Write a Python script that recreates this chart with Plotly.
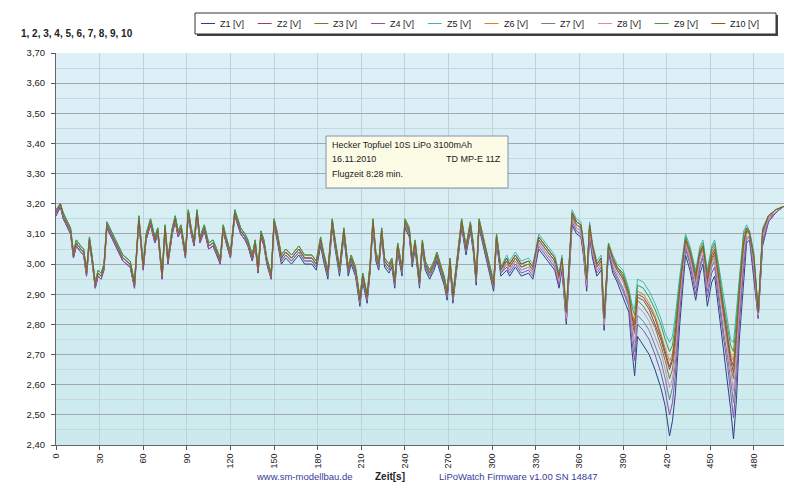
import plotly.graph_objects as go

# ---------------- data ----------------
T = [0,3,5,7,10,12,14,17,19,21,
     23,25,27,29,31,33,35,37,42,46,
     51,54,57,60,62,65,68,70,73,75,
     77,80,82,84,86,89,91,93,95,97,
     99,102,105,108,113,115,117,120,123,127,
     130,132,135,137,139,141,143,145,148,150,
     152,155,158,162,167,171,176,179,182,184,
     187,190,192,195,198,201,203,206,209,211,
     214,216,218,220,222,224,226,229,231,233,
     235,238,240,243,245,247,250,252,254,257,
     260,262,265,267,269,271,273,276,279,282,
     285,287,289,291,294,297,299,301,303,306,
     310,312,316,320,325,328,332,335,340,343,
     346,348,351,353,355,358,361,363,365,367,
     369,372,375,377,
     380,383,386,390,394,396,398,400,404,408,
     412,416,419,422,424,426,429,433,436,438,
     440,443,445,448,451,453,456,459,462,464,
     466,468,470,473,475,477,480,483,486,490,
     495,500,505]

Z1 = [3.16,3.19,3.15,3.13,3.10,3.02,3.06,3.04,3.03,2.96,
      3.07,3.00,2.92,2.96,2.95,2.98,3.12,3.10,3.05,3.01,
      2.99,2.92,3.14,2.98,3.08,3.13,3.07,3.10,2.95,3.11,
      3.00,3.10,3.14,3.09,3.11,3.02,3.16,3.10,3.06,3.16,
      3.07,3.11,3.05,3.06,3.00,3.11,3.07,3.02,3.16,3.10,
      3.08,3.06,3.01,3.06,2.97,3.09,3.06,3.00,2.95,3.13,
      3.08,3.00,3.02,3.00,3.03,3.00,3.00,2.98,3.06,3.01,
      2.95,3.12,3.05,2.96,3.09,2.96,3.00,2.96,2.86,2.94,
      2.87,2.97,3.12,3.01,2.98,3.09,2.99,2.97,2.99,2.92,
      3.04,2.96,3.12,3.09,2.99,3.05,2.92,3.05,2.98,2.95,
      2.98,3.01,2.96,2.93,2.88,2.99,2.87,2.99,3.12,3.03,
      3.11,3.04,2.93,3.12,3.06,2.99,2.95,2.91,3.07,2.96,
      2.98,2.96,2.99,2.96,2.97,2.95,3.05,3.03,3.00,2.98,
      2.92,2.98,2.80,2.96,3.13,3.10,3.09,3.02,2.91,3.09,
      3.02,2.96,2.98,2.78,
      3.04,2.97,2.94,2.89,2.84,2.72,2.63,2.76,2.73,2.70,
      2.65,2.59,2.53,2.43,2.48,2.57,2.80,3.03,2.98,2.93,
      2.88,2.97,3.00,2.86,2.94,2.96,2.84,2.72,2.62,2.52,
      2.42,2.55,2.75,2.96,3.07,3.08,2.95,2.82,3.06,3.14,
      3.17,3.19,3.20]

Z2 = [3.17,3.20,3.16,3.14,3.11,3.03,3.07,3.05,3.04,2.97,
      3.08,3.01,2.93,2.97,2.96,2.99,3.13,3.11,3.06,3.02,
      3.00,2.93,3.15,2.99,3.09,3.14,3.08,3.11,2.96,3.12,
      3.01,3.11,3.15,3.10,3.12,3.03,3.17,3.11,3.07,3.17,
      3.08,3.12,3.06,3.07,3.01,3.12,3.08,3.03,3.17,3.11,
      3.09,3.07,3.02,3.07,2.98,3.10,3.07,3.01,2.96,3.14,
      3.10,3.02,3.04,3.02,3.05,3.02,3.02,3.00,3.08,3.03,
      2.97,3.14,3.07,2.98,3.11,2.98,3.02,2.98,2.88,2.96,
      2.89,2.99,3.14,3.03,3.00,3.11,3.01,2.99,3.01,2.94,
      3.06,2.98,3.14,3.11,3.01,3.07,2.94,3.07,3.00,2.97,
      3.00,3.03,2.98,2.95,2.90,3.01,2.89,3.01,3.14,3.05,
      3.13,3.06,2.95,3.14,3.08,3.01,2.97,2.93,3.09,2.98,
      3.01,2.99,3.02,2.99,3.00,2.98,3.08,3.06,3.03,3.01,
      2.95,3.01,2.83,2.99,3.16,3.13,3.12,3.05,2.94,3.12,
      3.05,2.99,3.01,2.81,
      3.06,3.01,2.98,2.95,2.90,2.83,2.78,2.89,2.88,2.85,
      2.80,2.75,2.70,2.65,2.68,2.75,2.91,3.08,3.04,2.99,
      2.95,3.03,3.06,2.94,3.02,3.04,2.95,2.84,2.75,2.68,
      2.64,2.75,2.90,3.07,3.11,3.10,3.01,2.83,3.10,3.15,
      3.18,3.19,3.20]

Z3 = [3.18,3.20,3.17,3.15,3.12,3.04,3.08,3.06,3.05,2.98,
      3.09,3.02,2.94,2.98,2.97,3.00,3.14,3.12,3.07,3.03,
      3.01,2.94,3.16,3.00,3.10,3.15,3.09,3.12,2.97,3.13,
      3.02,3.12,3.16,3.11,3.13,3.04,3.18,3.12,3.08,3.18,
      3.09,3.13,3.07,3.08,3.02,3.13,3.09,3.04,3.18,3.12,
      3.10,3.08,3.03,3.08,2.99,3.11,3.08,3.02,2.97,3.15,
      3.10,3.02,3.04,3.02,3.05,3.02,3.02,3.00,3.08,3.03,
      2.97,3.14,3.07,2.98,3.11,2.98,3.02,2.98,2.88,2.96,
      2.89,2.99,3.14,3.03,3.00,3.11,3.01,2.99,3.01,2.94,
      3.06,2.98,3.14,3.11,3.01,3.07,2.94,3.07,3.00,2.97,
      3.00,3.03,2.98,2.95,2.90,3.01,2.89,3.01,3.14,3.05,
      3.13,3.06,2.95,3.14,3.08,3.01,2.97,2.93,3.09,2.98,
      3.01,2.99,3.02,2.99,3.00,2.98,3.08,3.06,3.03,3.01,
      2.95,3.01,2.83,2.99,3.16,3.13,3.12,3.05,2.94,3.12,
      3.05,2.99,3.01,2.81,
      3.06,3.01,2.98,2.95,2.89,2.81,2.77,2.88,2.86,2.83,
      2.79,2.73,2.68,2.62,2.65,2.73,2.90,3.07,3.03,2.99,
      2.94,3.03,3.05,2.93,3.01,3.03,2.93,2.83,2.73,2.66,
      2.62,2.73,2.88,3.05,3.11,3.10,3.01,2.83,3.10,3.15,
      3.18,3.19,3.20]

Z4 = [3.16,3.19,3.15,3.13,3.10,3.02,3.06,3.04,3.03,2.96,
      3.07,3.00,2.92,2.96,2.95,2.98,3.12,3.10,3.05,3.01,
      2.99,2.92,3.14,2.98,3.08,3.13,3.07,3.10,2.95,3.11,
      3.00,3.10,3.14,3.09,3.11,3.02,3.16,3.10,3.06,3.16,
      3.07,3.11,3.05,3.06,3.00,3.11,3.07,3.02,3.16,3.10,
      3.08,3.06,3.01,3.06,2.97,3.09,3.06,3.00,2.95,3.13,
      3.09,3.01,3.03,3.01,3.04,3.01,3.01,2.99,3.07,3.02,
      2.96,3.13,3.06,2.97,3.10,2.97,3.01,2.97,2.87,2.95,
      2.88,2.98,3.13,3.02,2.99,3.10,3.00,2.98,3.00,2.93,
      3.05,2.97,3.13,3.10,3.00,3.06,2.93,3.06,2.99,2.96,
      2.99,3.02,2.97,2.94,2.89,3.00,2.88,3.00,3.13,3.04,
      3.12,3.05,2.94,3.13,3.07,3.00,2.96,2.92,3.08,2.97,
      2.99,2.97,3.00,2.97,2.98,2.96,3.06,3.04,3.01,2.99,
      2.93,2.99,2.81,2.97,3.14,3.11,3.10,3.03,2.92,3.10,
      3.03,2.97,2.99,2.79,
      3.05,2.98,2.95,2.91,2.86,2.75,2.68,2.80,2.78,2.75,
      2.70,2.64,2.58,2.50,2.54,2.63,2.84,3.05,3.00,2.95,
      2.90,2.99,3.02,2.89,2.97,2.99,2.87,2.76,2.66,2.57,
      2.49,2.61,2.80,2.99,3.08,3.09,2.97,2.82,3.07,3.14,
      3.17,3.19,3.20]

Z5 = [3.18,3.20,3.17,3.15,3.12,3.04,3.08,3.06,3.05,2.98,
      3.09,3.02,2.94,2.98,2.97,3.00,3.14,3.12,3.07,3.03,
      3.01,2.94,3.16,3.00,3.10,3.15,3.09,3.12,2.97,3.13,
      3.02,3.12,3.16,3.11,3.13,3.04,3.18,3.12,3.08,3.18,
      3.09,3.13,3.07,3.08,3.02,3.13,3.09,3.04,3.18,3.12,
      3.10,3.08,3.03,3.08,2.99,3.11,3.08,3.02,2.97,3.15,
      3.11,3.03,3.05,3.03,3.06,3.03,3.03,3.01,3.09,3.04,
      2.98,3.15,3.08,2.99,3.12,2.99,3.03,2.99,2.89,2.97,
      2.90,3.00,3.15,3.04,3.01,3.12,3.02,3.00,3.02,2.95,
      3.07,2.99,3.15,3.12,3.02,3.08,2.95,3.08,3.01,2.98,
      3.01,3.04,2.99,2.96,2.91,3.02,2.90,3.02,3.15,3.06,
      3.14,3.07,2.96,3.15,3.09,3.02,2.98,2.94,3.10,2.99,
      3.03,3.01,3.04,3.01,3.02,3.00,3.10,3.08,3.05,3.03,
      2.97,3.03,2.85,3.01,3.18,3.15,3.14,3.07,2.96,3.14,
      3.07,3.01,3.03,2.83,
      3.07,3.03,3.00,2.98,2.92,2.87,2.85,2.95,2.94,2.91,
      2.87,2.82,2.77,2.74,2.76,2.83,2.96,3.10,3.06,3.02,
      2.98,3.06,3.08,2.98,3.06,3.08,2.99,2.89,2.80,2.75,
      2.74,2.84,2.96,3.11,3.13,3.11,3.04,2.84,3.12,3.16,
      3.18,3.19,3.20]

Z6 = [3.17,3.20,3.16,3.14,3.11,3.03,3.07,3.05,3.04,2.97,
      3.08,3.01,2.93,2.97,2.96,2.99,3.13,3.11,3.06,3.02,
      3.00,2.93,3.15,2.99,3.09,3.14,3.08,3.11,2.96,3.12,
      3.01,3.11,3.15,3.10,3.12,3.03,3.17,3.11,3.07,3.17,
      3.08,3.12,3.06,3.07,3.01,3.12,3.08,3.03,3.17,3.11,
      3.09,3.07,3.02,3.07,2.98,3.10,3.07,3.01,2.96,3.14,
      3.11,3.03,3.05,3.03,3.06,3.03,3.03,3.01,3.09,3.04,
      2.98,3.15,3.08,2.99,3.12,2.99,3.03,2.99,2.89,2.97,
      2.90,3.00,3.15,3.04,3.01,3.12,3.02,3.00,3.02,2.95,
      3.07,2.99,3.15,3.12,3.02,3.08,2.95,3.08,3.01,2.98,
      3.01,3.04,2.99,2.96,2.91,3.02,2.90,3.02,3.15,3.06,
      3.14,3.07,2.96,3.15,3.09,3.02,2.98,2.94,3.10,2.99,
      3.02,3.00,3.03,3.00,3.01,2.99,3.09,3.07,3.04,3.02,
      2.96,3.02,2.84,3.00,3.17,3.14,3.13,3.06,2.95,3.13,
      3.06,3.00,3.02,2.82,
      3.06,3.02,2.99,2.96,2.90,2.84,2.81,2.91,2.90,2.87,
      2.83,2.77,2.72,2.68,2.70,2.78,2.93,3.09,3.04,3.00,
      2.96,3.04,3.06,2.96,3.04,3.06,2.96,2.86,2.76,2.70,
      2.68,2.78,2.92,3.08,3.12,3.10,3.02,2.84,3.11,3.16,
      3.18,3.19,3.20]

Z7 = [3.17,3.20,3.16,3.14,3.11,3.03,3.07,3.05,3.04,2.97,
      3.08,3.01,2.93,2.97,2.96,2.99,3.13,3.11,3.06,3.02,
      3.00,2.93,3.15,2.99,3.09,3.14,3.08,3.11,2.96,3.12,
      3.01,3.11,3.15,3.10,3.12,3.03,3.17,3.11,3.07,3.17,
      3.08,3.12,3.06,3.07,3.01,3.12,3.08,3.03,3.17,3.11,
      3.09,3.07,3.02,3.07,2.98,3.10,3.07,3.01,2.96,3.14,
      3.09,3.01,3.03,3.01,3.04,3.01,3.01,2.99,3.07,3.02,
      2.96,3.13,3.06,2.97,3.10,2.97,3.01,2.97,2.87,2.95,
      2.88,2.98,3.13,3.02,2.99,3.10,3.00,2.98,3.00,2.93,
      3.05,2.97,3.13,3.10,3.00,3.06,2.93,3.06,2.99,2.96,
      2.99,3.02,2.97,2.94,2.89,3.00,2.88,3.00,3.13,3.04,
      3.12,3.05,2.94,3.13,3.07,3.00,2.96,2.92,3.08,2.97,
      3.00,2.98,3.01,2.98,2.99,2.97,3.07,3.05,3.02,3.00,
      2.94,3.00,2.82,2.98,3.15,3.12,3.11,3.04,2.93,3.11,
      3.04,2.98,3.00,2.80,
      3.05,2.99,2.96,2.92,2.87,2.78,2.71,2.83,2.81,2.78,
      2.73,2.68,2.62,2.55,2.59,2.67,2.86,3.06,3.01,2.96,
      2.92,3.00,3.03,2.91,2.99,3.01,2.90,2.78,2.69,2.61,
      2.54,2.66,2.83,3.02,3.09,3.09,2.98,2.83,3.08,3.15,
      3.17,3.19,3.20]

Z8 = [3.17,3.20,3.16,3.14,3.11,3.03,3.07,3.05,3.04,2.97,
      3.08,3.01,2.93,2.97,2.96,2.99,3.13,3.11,3.06,3.02,
      3.00,2.93,3.15,2.99,3.09,3.14,3.08,3.11,2.96,3.12,
      3.01,3.11,3.15,3.10,3.12,3.03,3.17,3.11,3.07,3.17,
      3.08,3.12,3.06,3.07,3.01,3.12,3.08,3.03,3.17,3.11,
      3.09,3.07,3.02,3.07,2.98,3.10,3.07,3.01,2.96,3.14,
      3.10,3.02,3.04,3.02,3.05,3.02,3.02,3.00,3.08,3.03,
      2.97,3.14,3.07,2.98,3.11,2.98,3.02,2.98,2.88,2.96,
      2.89,2.99,3.14,3.03,3.00,3.11,3.01,2.99,3.01,2.94,
      3.06,2.98,3.14,3.11,3.01,3.07,2.94,3.07,3.00,2.97,
      3.00,3.03,2.98,2.95,2.90,3.01,2.89,3.01,3.14,3.05,
      3.13,3.06,2.95,3.14,3.08,3.01,2.97,2.93,3.09,2.98,
      3.00,2.98,3.01,2.98,2.99,2.97,3.07,3.05,3.02,3.00,
      2.94,3.00,2.82,2.98,3.15,3.12,3.11,3.04,2.93,3.11,
      3.04,2.98,3.00,2.80,
      3.06,3.00,2.97,2.94,2.88,2.80,2.74,2.86,2.84,2.81,
      2.76,2.71,2.65,2.59,2.62,2.70,2.88,3.07,3.02,2.98,
      2.93,3.02,3.04,2.92,3.00,3.02,2.92,2.81,2.71,2.64,
      2.58,2.70,2.86,3.04,3.10,3.10,3.00,2.83,3.09,3.15,
      3.18,3.19,3.20]

Z9 = [3.18,3.20,3.17,3.15,3.12,3.04,3.08,3.06,3.05,2.98,
      3.09,3.02,2.94,2.98,2.97,3.00,3.14,3.12,3.07,3.03,
      3.01,2.94,3.16,3.00,3.10,3.15,3.09,3.12,2.97,3.13,
      3.02,3.12,3.16,3.11,3.13,3.04,3.18,3.12,3.08,3.18,
      3.09,3.13,3.07,3.08,3.02,3.13,3.09,3.04,3.18,3.12,
      3.10,3.08,3.03,3.08,2.99,3.11,3.08,3.02,2.97,3.15,
      3.11,3.03,3.05,3.03,3.06,3.03,3.03,3.01,3.09,3.04,
      2.98,3.15,3.08,2.99,3.12,2.99,3.03,2.99,2.89,2.97,
      2.90,3.00,3.15,3.04,3.01,3.12,3.02,3.00,3.02,2.95,
      3.07,2.99,3.15,3.12,3.02,3.08,2.95,3.08,3.01,2.98,
      3.01,3.04,2.99,2.96,2.91,3.02,2.90,3.02,3.15,3.06,
      3.14,3.07,2.96,3.15,3.09,3.02,2.98,2.94,3.10,2.99,
      3.02,3.00,3.03,3.00,3.01,2.99,3.09,3.07,3.04,3.02,
      2.96,3.02,2.84,3.00,3.17,3.14,3.13,3.06,2.95,3.13,
      3.06,3.00,3.02,2.82,
      3.07,3.02,2.99,2.97,2.91,2.86,2.83,2.93,2.92,2.89,
      2.85,2.80,2.75,2.71,2.73,2.80,2.94,3.09,3.05,3.01,
      2.97,3.05,3.07,2.97,3.05,3.07,2.98,2.87,2.78,2.73,
      2.71,2.81,2.94,3.10,3.12,3.11,3.03,2.84,3.11,3.16,
      3.18,3.19,3.20]

Z10 = [3.17,3.20,3.16,3.14,3.11,3.03,3.07,3.05,3.04,2.97,
       3.08,3.01,2.93,2.97,2.96,2.99,3.13,3.11,3.06,3.02,
       3.00,2.93,3.15,2.99,3.09,3.14,3.08,3.11,2.96,3.12,
       3.01,3.11,3.15,3.10,3.12,3.03,3.17,3.11,3.07,3.17,
       3.08,3.12,3.06,3.07,3.01,3.12,3.08,3.03,3.17,3.11,
       3.09,3.07,3.02,3.07,2.98,3.10,3.07,3.01,2.96,3.14,
       3.10,3.02,3.04,3.02,3.05,3.02,3.02,3.00,3.08,3.03,
       2.97,3.14,3.07,2.98,3.11,2.98,3.02,2.98,2.88,2.96,
       2.89,2.99,3.14,3.03,3.00,3.11,3.01,2.99,3.01,2.94,
       3.06,2.98,3.14,3.11,3.01,3.07,2.94,3.07,3.00,2.97,
       3.00,3.03,2.98,2.95,2.90,3.01,2.89,3.01,3.14,3.05,
       3.13,3.06,2.95,3.14,3.08,3.01,2.97,2.93,3.09,2.98,
       3.02,3.00,3.03,3.00,3.01,2.99,3.09,3.07,3.04,3.02,
       2.96,3.02,2.84,3.00,3.17,3.14,3.13,3.06,2.95,3.13,
       3.06,3.00,3.02,2.82,
       3.06,3.02,2.99,2.96,2.90,2.83,2.80,2.90,2.89,2.86,
       2.82,2.76,2.71,2.66,2.69,2.77,2.92,3.08,3.04,3.00,
       2.96,3.04,3.06,2.95,3.03,3.05,2.95,2.85,2.76,2.69,
       2.66,2.77,2.91,3.07,3.12,3.10,3.02,2.84,3.11,3.16,
       3.18,3.19,3.20]

CELLS = [Z1, Z2, Z3, Z4, Z5, Z6, Z7, Z8, Z9, Z10]
NAMES = ["Z1 [V]", "Z2 [V]", "Z3 [V]", "Z4 [V]", "Z5 [V]",
         "Z6 [V]", "Z7 [V]", "Z8 [V]", "Z9 [V]", "Z10 [V]"]
COLORS = ["#2f3f86", "#a83a4a", "#7a7a2a", "#8a4fa8", "#3fb8b8",
          "#d9822b", "#6f7f95", "#d48ac0", "#3f9a4a", "#8b5a2b"]

Y_TICKS = [2.40, 2.50, 2.60, 2.70, 2.80, 2.90, 3.00, 3.10, 3.20, 3.30, 3.40, 3.50, 3.60, 3.70]
X_TICKS = list(range(0, 481, 30))

FONT = "Liberation Sans, Arial, sans-serif"

W, H = 792, 484
L, R, TOP, B = 48, 6, 45, 47
pw, ph = W - L - R, H - TOP - B


def px(x):
    return (x - L) / pw


def py(y):
    return (H - B - y) / ph


fig = go.Figure()
for vals, name, col in zip(CELLS, NAMES, COLORS):
    fig.add_trace(go.Scatter(x=T, y=vals, mode="lines", name=name,
                             showlegend=False,
                             line=dict(color=col, width=1)))

shapes = []
# background gradient bands (style only)
n = 26
top_c = (222, 240, 247)
bot_c = (204, 234, 237)
for i in range(n):
    f = i / (n - 1)
    c = tuple(round(bot_c[k] + (top_c[k] - bot_c[k]) * f) for k in range(3))
    shapes.append(dict(type="rect", xref="paper", yref="paper",
                       x0=0, x1=1, y0=i / n, y1=(i + 1) / n,
                       fillcolor="rgb(%d,%d,%d)" % c, line=dict(width=0),
                       layer="below"))

# info box
shapes.append(dict(type="rect", xref="paper", yref="paper",
                   x0=px(318), x1=px(500), y0=py(180), y1=py(128),
                   fillcolor="#fbfbe6", line=dict(color="#8890b0", width=1),
                   layer="above"))

ann = []
txt = dict(family=FONT, size=9, color="#222")
ann.append(dict(xref="paper", yref="paper", x=px(322), y=py(137),
                text="Hecker Topfuel 10S LiPo 3100mAh", showarrow=False,
                xanchor="left", yanchor="middle", font=txt))
ann.append(dict(xref="paper", yref="paper", x=px(322), y=py(151),
                text="16.11.2010", showarrow=False,
                xanchor="left", yanchor="middle", font=txt))
ann.append(dict(xref="paper", yref="paper", x=px(495), y=py(151),
                text="TD MP-E 11Z", showarrow=False,
                xanchor="right", yanchor="middle", font=txt))
ann.append(dict(xref="paper", yref="paper", x=px(322), y=py(166),
                text="Flugzeit 8:28 min.", showarrow=False,
                xanchor="left", yanchor="middle", font=txt))
ann.append(dict(xref="paper", yref="paper", x=px(11), y=py(25),
                text="<b>1, 2, 3, 4, 5, 6, 7, 8, 9, 10</b>", showarrow=False,
                xanchor="left", yanchor="middle",
                font=dict(family=FONT, size=10, color="#222")))
ann.append(dict(xref="paper", yref="paper", x=px(296), y=py(468),
                text="www.sm-modellbau.de", showarrow=False,
                xanchor="center", yanchor="middle",
                font=dict(family=FONT, size=9.5, color="#3a3a9a")))
ann.append(dict(xref="paper", yref="paper", x=px(382), y=py(468),
                text="<b>Zeit[s]</b>", showarrow=False,
                xanchor="center", yanchor="middle",
                font=dict(family=FONT, size=10, color="#222")))
ann.append(dict(xref="paper", yref="paper", x=px(429), y=py(468),
                text="LiPoWatch Firmware v1.00 SN 14847", showarrow=False,
                xanchor="left", yanchor="middle",
                font=dict(family=FONT, size=9.5, color="#3a3a9a")))

# hand-drawn legend box (shadow + frame)
shapes.append(dict(type="rect", xref="paper", yref="paper",
                   x0=px(189), x1=px(770), y0=py(28), y1=py(7),
                   fillcolor="#444", line=dict(width=0), layer="above"))
shapes.append(dict(type="rect", xref="paper", yref="paper",
                   x0=px(187), x1=px(768), y0=py(26), y1=py(5),
                   fillcolor="white", line=dict(color="#333", width=1), layer="above"))
for i, (name, col) in enumerate(zip(NAMES, COLORS)):
    xs = 210 + i * 56.7
    shapes.append(dict(type="line", xref="paper", yref="paper",
                       x0=px(xs - 17), x1=px(xs - 3), y0=py(15.5), y1=py(15.5),
                       line=dict(color=col, width=1), layer="above"))
    ann.append(dict(xref="paper", yref="paper", x=px(xs), y=py(15.5),
                    text=name, showarrow=False, xanchor="left", yanchor="middle",
                    font=dict(family=FONT, size=9, color="#222")))

fig.update_layout(
    width=W, height=H,
    margin=dict(l=L, r=R, t=TOP, b=B, pad=0),
    paper_bgcolor="white",
    plot_bgcolor="#d8edf3",
    separators=",.",
    font=dict(family=FONT, size=9, color="#222"),
    shapes=shapes,
    annotations=ann,
    showlegend=False,
    xaxis=dict(range=[0, 507.6], tickmode="array", tickvals=X_TICKS,
               tickangle=-90, ticks="outside", ticklen=4, tickcolor="#555",
               showline=True, linecolor="#666", linewidth=1,
               showgrid=True, gridcolor="#bfd2da", gridwidth=1,
               zeroline=False, tickfont=dict(size=9, color="#222")),
    yaxis=dict(range=[2.40, 3.70], tickmode="array", tickvals=Y_TICKS,
               tickformat=".2f", ticks="outside", ticklen=4, tickcolor="#555",
               ticklabelstandoff=4,
               showline=True, linecolor="#666", linewidth=1,
               showgrid=True, gridcolor="#9ea8ae", gridwidth=1,
               minor=dict(dtick=0.05, tick0=2.40, showgrid=True, gridcolor="#c4d8de", gridwidth=1),
               zeroline=False, tickfont=dict(size=9.5, color="#222")),
)

fig.write_html("out.html")
